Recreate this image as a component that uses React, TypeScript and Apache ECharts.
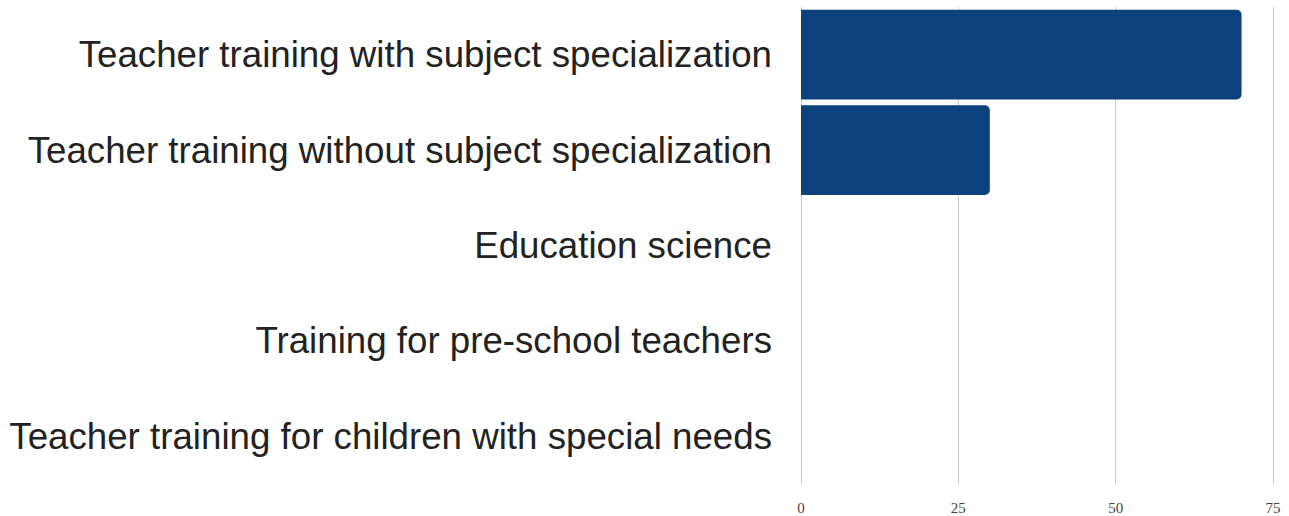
import React, { useEffect, useRef } from "react";
import * as echarts from "echarts";

const categories = [
  "Teacher training with subject specialization",
  "Teacher training without subject specialization",
  "Education science",
  "Training for pre-school teachers",
  "Teacher training for children with special needs",
];
const values = [70, 30, 0, 0, 0];
const xTicks = [0, 25, 50, 75];

export default function App() {
  const ref = useRef<HTMLDivElement>(null);
  useEffect(() => {
    if (!ref.current) return;
    const chart = echarts.init(ref.current, undefined, { renderer: "svg" });
    chart.setOption({
      animation: false,
      grid: { left: 801, right: 16, top: 7, bottom: 32, containLabel: false },
      xAxis: {
        type: "value",
        min: xTicks[0],
        max: xTicks[xTicks.length - 1],
        interval: 25,
        axisLine: { show: false },
        axisTick: { show: false },
        splitLine: { show: true, lineStyle: { color: "#cccccc", width: 1 } },
        axisLabel: {
          fontFamily: "Liberation Serif",
          fontSize: 15,
          color: "#444444",
          margin: 16,
        },
      },
      yAxis: {
        type: "category",
        data: categories,
        inverse: true,
        axisLine: { show: false },
        axisTick: { show: false },
        splitLine: { show: false },
        axisLabel: {
          fontFamily: "Liberation Sans",
          fontSize: 36.7,
          color: "#222222",
          margin: 29,
        },
      },
      series: [
        {
          type: "bar",
          data: values,
          barCategoryGap: "6%",
          itemStyle: { color: "#0b427d", borderRadius: [0, 5, 5, 0] },
        },
      ],
    });
    return () => chart.dispose();
  }, []);
  return (
    <div
      ref={ref}
      style={{ position: "absolute", left: 0, top: 0, width: 1289, height: 516 }}
    />
  );
}
